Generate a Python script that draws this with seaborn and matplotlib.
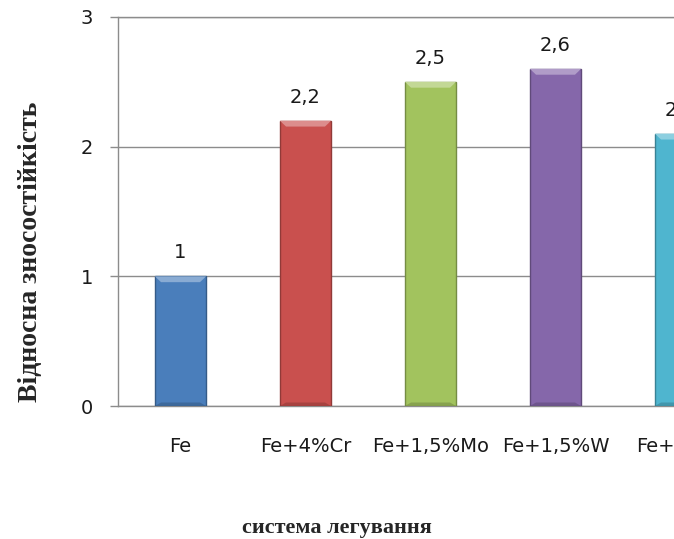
import matplotlib
matplotlib.use("Agg")
import matplotlib.pyplot as plt
import seaborn as sns
import pandas as pd
from matplotlib.patches import Polygon
import matplotlib.colors as mcolors

# Data: relative wear resistance by alloying system
alloys = ["Fe", "Fe+4%Cr", "Fe+1,5%Mo", "Fe+1,5%W", "Fe+4%Ni"]
wear = [1.0, 2.2, 2.5, 2.6, 2.1]
value_labels = ["1", "2,2", "2,5", "2,6", "2,1"]
y_ticks = [0, 1, 2, 3]
bar_colors = ["#4a7ebb", "#c9504e", "#a2c35e", "#8567aa", "#4fb5cf"]

sns.set_style("white")
plt.rcParams["font.family"] = ["DejaVu Sans"]

fig = plt.figure(figsize=(6.74, 5.39), dpi=100)
# plot area runs past the right edge of the figure, so the last bar is cut
ax = fig.add_axes([118 / 674, 1 - 406 / 539, 625 / 674, (406 - 17) / 539])

df = pd.DataFrame({"alloy": alloys, "wear": wear})
sns.barplot(data=df, x="alloy", y="wear", hue="alloy", palette=bar_colors,
            width=0.41, legend=False, ax=ax, saturation=1, zorder=3)

grid_c = "#8c8c8c"
txt_c = "#1a1a1a"
ax.set_yticks(y_ticks)
ax.set_yticklabels([str(t) for t in y_ticks])
ax.yaxis.grid(True, color=grid_c, lw=1, zorder=0)
ax.xaxis.grid(False)
for s in ["top", "right"]:
    ax.spines[s].set_visible(False)
for s in ["left", "bottom"]:
    ax.spines[s].set_color(grid_c)
    ax.spines[s].set_linewidth(1)

# labels at category centres, tick marks at category boundaries
ax.set_xticks(range(len(alloys)))
ax.set_xticklabels(alloys)
ax.set_xticks([i - 0.5 for i in range(len(alloys) + 1)], minor=True)
ax.tick_params(axis="x", which="major", length=0, pad=22, labelsize=14,
               labelcolor=txt_c)
ax.tick_params(axis="x", which="minor", length=6, width=1, color=grid_c,
               direction="out")
ax.tick_params(axis="y", which="major", length=6, width=1, color=grid_c,
               direction="out", pad=12, labelsize=14, labelcolor=txt_c,
               left=True)
ax.set_xlabel("")
ax.set_ylabel("")

# bevelled look for each bar
for patch in ax.patches:
    x0, y0 = patch.get_x(), patch.get_y()
    w, h = patch.get_width(), patch.get_height()
    base = mcolors.to_rgb(patch.get_facecolor())
    dark = tuple(c * 0.72 for c in base)
    light = tuple(c + (1 - c) * 0.35 for c in base)
    patch.set_edgecolor(dark)
    patch.set_linewidth(1)
    bw = w * 0.12
    bh = 0.045
    ax.add_patch(Polygon([(x0, y0 + h), (x0 + w, y0 + h), (x0 + w - bw, y0 + h - bh),
                          (x0 + bw, y0 + h - bh)], closed=True, facecolor=light,
                         edgecolor="none", zorder=4))
    ax.add_patch(Polygon([(x0, y0), (x0 + w, y0), (x0 + w - bw, y0 + bh * 0.6),
                          (x0 + bw, y0 + bh * 0.6)], closed=True, facecolor=dark,
                         edgecolor="none", alpha=0.6, zorder=4))

for cont, lab in zip(ax.containers, value_labels):
    ax.bar_label(cont, labels=[lab], padding=10, fontsize=14, color=txt_c)

ax.set_ylim(0, 3)
ax.set_xlim(-0.5, len(alloys) - 0.5)
ax.axhline(3, color=grid_c, lw=1, clip_on=False, zorder=1)

fig.text(31 / 674, 1 - 252 / 539, "Відносна зносостійкість", rotation=90,
         ha="center", va="center", family="Liberation Serif", weight="bold",
         fontsize=20)
fig.text(0.5, 1 - 533 / 539, "система легування", ha="center", va="baseline",
         family="Liberation Serif", weight="bold", fontsize=16)

fig.savefig("out.png", dpi=100)
